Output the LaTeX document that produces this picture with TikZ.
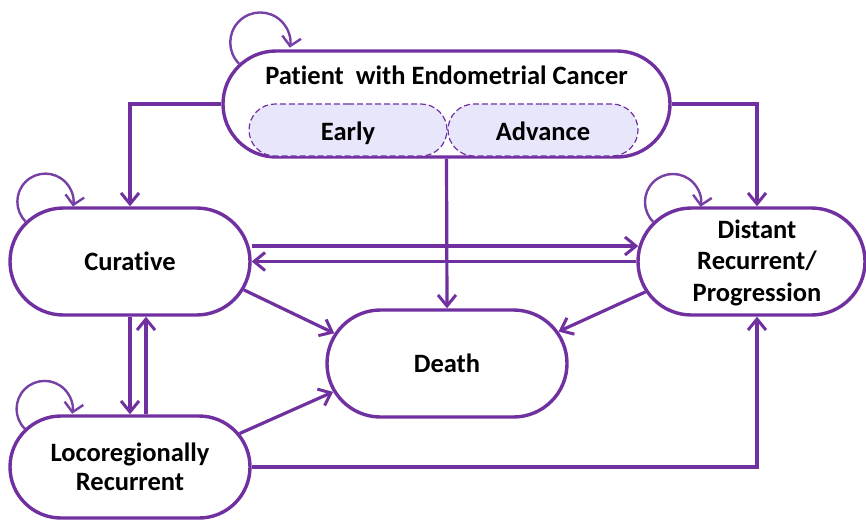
\documentclass[tikz,border=0pt]{standalone}
\usepackage{fontspec}
\setmainfont[Ligatures={NoCommon}]{Carlito}
\usetikzlibrary{arrows.meta,shapes.misc}
\definecolor{pur}{RGB}{112,48,160}
\definecolor{loopc}{RGB}{118,64,165}
\definecolor{lav}{RGB}{232,230,250}
\tikzset{
  state/.style={rounded rectangle, draw=pur, line width=3.4pt, fill=white, align=center,
    font=\fontsize{26.5}{31}\selectfont\bfseries, inner sep=0pt},
  sub/.style={rounded rectangle, draw=pur, line width=1.2pt, dash pattern=on 6pt off 3pt, fill=lav,
    font=\fontsize{26.5}{31}\selectfont\bfseries, inner sep=0pt, text height=24pt, text depth=3pt},
  lbl/.style={align=center, font=\fontsize{26.5}{31}\selectfont\bfseries, inner sep=0pt},
  conn/.style={draw=pur, line width=3.2pt, -{Straight Barb[length=11pt,width=18pt,line width=3pt]}},
  selfloop/.style={draw=loopc, line width=2.4pt, -{Straight Barb[length=9pt,width=19pt,line width=2.4pt]}}
}
\begin{document}
\begin{tikzpicture}[x=1pt,y=1pt]
\useasboundingbox (0,0) rectangle (866,-520);
% nodes
\node[state, minimum width=447pt, minimum height=106pt] (top) at (446.5,-104) {};
\node[lbl] (toptxt) at (446.5,-75) {Patient\ \ with Endometrial Cancer};
\node[sub, minimum width=198pt, minimum height=52pt] (early) at (348,-130) {Early};
\node[sub, minimum width=190pt, minimum height=52pt] (adv) at (543,-130) {Advance};
\node[state, minimum width=240pt, minimum height=107pt] (cur) at (130,-261.5) {Curative};
\node[state, minimum width=227pt, minimum height=107pt] (dist) at (751.5,-261.5) {};
\node[lbl, font=\fontsize{26.5}{31.5}\selectfont\bfseries] (disttxt) at (757,-262.5) {Distant\\Recurrent/\\Progression};
\node[state, minimum width=240pt, minimum height=107pt] (death) at (447,-363.5) {Death};
\node[state, minimum width=240pt, minimum height=102pt, font=\fontsize{26.5}{29.5}\selectfont\bfseries] (loco) at (130,-467) {Locoregionally\\Recurrent};
% self loops
\draw[selfloop] (top.169.5) arc[start angle=225, end angle=-10, radius=30];
\draw[selfloop] (cur.159.4) arc[start angle=225, end angle=-10, radius=28];
\draw[selfloop] (dist.158.4) arc[start angle=225, end angle=-10, radius=28];
\draw[selfloop] (loco.160.9) arc[start angle=225, end angle=-10, radius=28];
% connectors
\draw[conn] (top.west) -| (cur.north);
\draw[conn] (top.east) -| ([xshift=5.5pt]dist.north);
\draw[conn] (top.south) -- (death.north);
\draw[conn] ([yshift=15.5pt]cur.east) -- ([yshift=15.5pt,xshift=2pt]dist.west);
\draw[conn] (dist.west) -- (cur.east);
\draw[conn] (cur.-14) -- (death.165);
\draw[conn] (dist.-164) -- (death.16);
\draw[conn] (cur.south) -- (loco.north);
\draw[conn] ([xshift=16pt]loco.north) -- ([xshift=16pt]cur.south);
\draw[conn] (loco.17) -- (death.194);
\draw[conn] (loco.east) -| ([xshift=5.5pt]dist.south);
\end{tikzpicture}
\end{document}
